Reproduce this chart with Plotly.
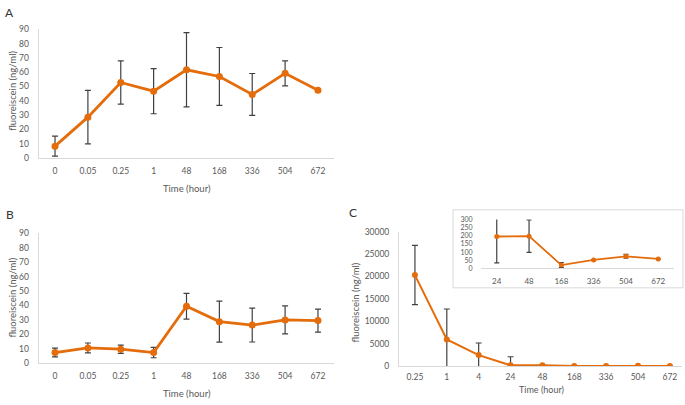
import plotly.graph_objects as go

# ---- data ----
time_ab = ["0", "0.05", "0.25", "1", "48", "168", "336", "504", "672"]
a_mean = [8.2, 28.5, 52.8, 46.7, 61.7, 57.0, 44.4, 59.2, 47.4]
a_err = [7.0, 18.7, 15.2, 15.8, 26.0, 20.3, 14.7, 8.8, 0]
b_mean = [7.4, 10.6, 9.7, 7.4, 39.5, 28.8, 26.4, 30.0, 29.5]
b_err = [3.0, 3.4, 2.9, 3.6, 8.9, 14.2, 11.7, 9.7, 8.0]
time_c = ["0.25", "1", "4", "24", "48", "168", "336", "504", "672"]
c_mean = [20300, 5940, 2460, 196, 198, 20, 52, 74, 58]
c_err = [6600, 6800, 2700, 1900, 100, 16, 0, 12, 0]
time_inset = ["24", "48", "168", "336", "504", "672"]
inset_mean = [196, 198, 20, 52, 74, 58]
inset_err = [162, 100, 16, 0, 12, 0]

W, H = 685, 405
ORANGE = "#E46C0A"
ERR = "#404040"
TICK = "#595959"
AXLINE = "#D9D9D9"
FONT = "Lato, Open Sans, sans-serif"


def px(x):
    return x / W


def py(y):
    return 1 - y / H


fig = go.Figure()


def add_series(x, y, err, xa, ya, lw, ms, ew):
    fig.add_trace(go.Scatter(
        x=x, y=y, mode="lines+markers", xaxis=xa, yaxis=ya,
        line=dict(color=ORANGE, width=lw),
        marker=dict(color=ORANGE, size=ms),
        error_y=dict(type="data", array=err, color=ERR, thickness=1.2, width=ew),
        showlegend=False, cliponaxis=True,
    ))


add_series(time_ab, a_mean, a_err, "x", "y", 2.8, 7, 3)
add_series(time_ab, b_mean, b_err, "x2", "y2", 2.8, 7, 3)
add_series(time_c, c_mean, c_err, "x3", "y3", 2.0, 6, 3)
add_series(time_inset, inset_mean, inset_err, "x4", "y4", 1.8, 5, 2.5)

tickfont = dict(family=FONT, size=8.5, color=TICK)
smallfont = dict(family=FONT, size=7, color=TICK)


def xax(domain, anchor, rng, font=tickfont, standoff=5):
    return dict(domain=domain, anchor=anchor, type="category", showgrid=False,
                showline=True, linecolor=AXLINE, linewidth=1, ticks="", range=rng,
                tickfont=font, ticklabelstandoff=standoff, zeroline=False, fixedrange=True)


def yax(domain, anchor, rng, dtick, line=True, font=tickfont):
    return dict(domain=domain, anchor=anchor, range=rng, dtick=dtick, showgrid=False,
                showline=line, linecolor=AXLINE, linewidth=1, ticks="",
                tickfont=font, ticklabelstandoff=7, zeroline=False, fixedrange=True,
                tickformat="d")


xdomAB = [px(38.6), px(334.4)]
fig.update_layout(
    width=W, height=H,
    margin=dict(l=0, r=0, t=0, b=0),
    paper_bgcolor="white", plot_bgcolor="rgba(0,0,0,0)",
    xaxis=xax(xdomAB, "y", [-0.5, 8.5]),
    yaxis=yax([py(156.7), py(25)], "x", [0, 90], 10),
    xaxis2=xax(xdomAB, "y2", [-0.5, 8.5]),
    yaxis2=yax([py(367.3), py(234)], "x2", [0, 90], 10),
    xaxis3=xax([px(399), px(682)], "y3", [-0.5, 8.38], standoff=3),
    yaxis3=yax([py(370.3), py(232.3)], "x3", [0, 30000], 5000),
    xaxis4=xax([px(480.6), px(674.4)], "y4", [-0.5, 5.5], font=dict(family=FONT, size=8, color=TICK)),
    yaxis4=yax([py(270), py(220)], "x4", [0, 300], 50, line=False, font=smallfont),
)

# inset frame
fig.add_shape(type="rect", xref="paper", yref="paper",
              x0=px(453), x1=px(683), y0=py(290), y1=py(210),
              line=dict(color=AXLINE, width=1), fillcolor="white", layer="below")

titlefont = dict(family=FONT, size=9.5, color=TICK)
ann = []
for (x, y, t, s) in [(186.5, 188, "Time (hour)", 9.5), (186.5, 398, "Time (hour)", 9.5),
                     (541, 394, "Time (hour)", 9)]:
    ann.append(dict(x=px(x), y=py(y), xref="paper", yref="paper", text=t, showarrow=False,
                    font=dict(family=FONT, size=s, color=TICK), xanchor="center", yanchor="middle"))
for (x, y) in [(13, 88), (13, 300), (355, 305)]:
    ann.append(dict(x=px(x), y=py(y), xref="paper", yref="paper", text="fluoreiscein (ng/ml)",
                    showarrow=False, font=titlefont, textangle=-90,
                    xanchor="center", yanchor="middle"))
for (x, y, t) in [(9, 8, "A"), (10, 215, "B"), (353, 213, "C")]:
    ann.append(dict(x=px(x), y=py(y), xref="paper", yref="paper", text=t, showarrow=False,
                    font=dict(family=FONT, size=12, color="#333333"),
                    xanchor="center", yanchor="middle"))
fig.update_layout(annotations=ann)

fig.write_html("out.html", config={"displayModeBar": False},
               post_script="document.body.style.margin='0';")
